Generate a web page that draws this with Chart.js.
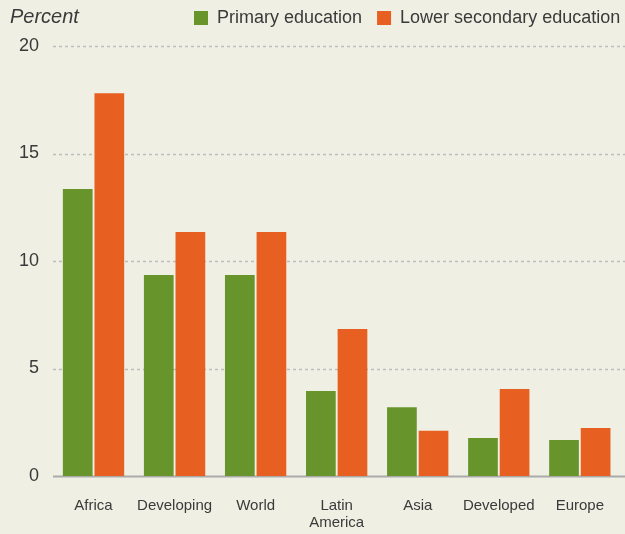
<!DOCTYPE html>
<html lang="en">
<head>
    <meta charset="UTF-8">
    <title>Percent by region</title>
    <style>
        html, body { margin: 0; padding: 0; background: #eff0e3; }
        .wrap { width: 625px; height: 534px; position: relative; }
    </style>
</head>
<body>
    <div class="wrap">
        <canvas id="myChart" width="625" height="534"></canvas>
    </div>

    <script src="https://cdn.jsdelivr.net/npm/chart.js"></script>
    <script>
        // data
        var regions = ['Africa', 'Developing', 'World', ['Latin', 'America'], 'Asia', 'Developed', 'Europe'];
        var primary = [13.35, 9.35, 9.35, 3.95, 3.2, 1.77, 1.67];
        var lowerSecondary = [17.8, 11.35, 11.35, 6.84, 2.1, 4.05, 2.23];
        var yTicks = [0, 5, 10, 15, 20];

        var GREEN = '#67952c';
        var ORANGE = '#e86021';
        var TEXT = '#3a3a3a';
        var font = "'Liberation Sans', Arial, sans-serif";

        // dashed grid + solid baseline
        var gridPlugin = {
            id: 'dashGrid',
            beforeDatasetsDraw: function (chart) {
                var ctx = chart.ctx;
                var y = chart.scales.y;
                var left = chart.chartArea.left;
                ctx.save();
                yTicks.forEach(function (v) {
                    var py = Math.round(y.getPixelForValue(v)) + 0.5;
                    ctx.beginPath();
                    if (v === 0) {
                        ctx.setLineDash([]);
                        ctx.strokeStyle = '#aaaaaa';
                        ctx.lineWidth = 2;
                    } else {
                        ctx.setLineDash([3, 3]);
                        ctx.strokeStyle = '#bdbdbd';
                        ctx.lineWidth = 1.5;
                    }
                    ctx.moveTo(left, py);
                    ctx.lineTo(chart.width, py);
                    ctx.stroke();
                });
                ctx.restore();
            },
            afterDraw: function (chart) {
                var ctx = chart.ctx;
                ctx.save();
                ctx.textBaseline = 'middle';
                ctx.fillStyle = TEXT;
                ctx.font = 'italic 20px ' + font;
                ctx.fillText('Percent', 10, 17);

                // legend
                ctx.font = '18px ' + font;
                var x = 194;
                chart.data.datasets.forEach(function (ds) {
                    ctx.fillStyle = ds.backgroundColor;
                    ctx.fillRect(x, 11, 14, 14);
                    ctx.fillStyle = TEXT;
                    ctx.fillText(ds.label, x + 23, 18);
                    x += 23 + ctx.measureText(ds.label).width + 15;
                });
                ctx.restore();
            }
        };

        var ctx = document.getElementById('myChart').getContext('2d');
        new Chart(ctx, {
            type: 'bar',
            data: {
                labels: regions,
                datasets: [
                    { label: 'Primary education', data: primary, backgroundColor: GREEN },
                    { label: 'Lower secondary education', data: lowerSecondary, backgroundColor: ORANGE }
                ]
            },
            options: {
                responsive: false,
                animation: false,
                layout: { padding: { top: 46, left: 0, right: 0, bottom: 0 } },
                datasets: {
                    bar: { categoryPercentage: 0.78, barPercentage: 0.94 }
                },
                plugins: {
                    legend: { display: false },
                    tooltip: { enabled: false }
                },
                scales: {
                    x: {
                        grid: { display: false, drawTicks: false },
                        border: { display: false },
                        afterFit: function (scale) { scale.height = 58; },
                        ticks: {
                            color: TEXT,
                            padding: 21,
                            maxRotation: 0,
                            autoSkip: false,
                            font: { family: font, size: 15, lineHeight: 1.13 }
                        }
                    },
                    y: {
                        min: 0,
                        max: 20,
                        grid: { display: false, drawTicks: false },
                        border: { display: false },
                        afterFit: function (scale) { scale.width = 53; },
                        ticks: {
                            stepSize: 5,
                            color: TEXT,
                            padding: 14,
                            font: { family: font, size: 18 }
                        }
                    }
                }
            },
            plugins: [gridPlugin]
        });
    </script>
</body>
</html>
